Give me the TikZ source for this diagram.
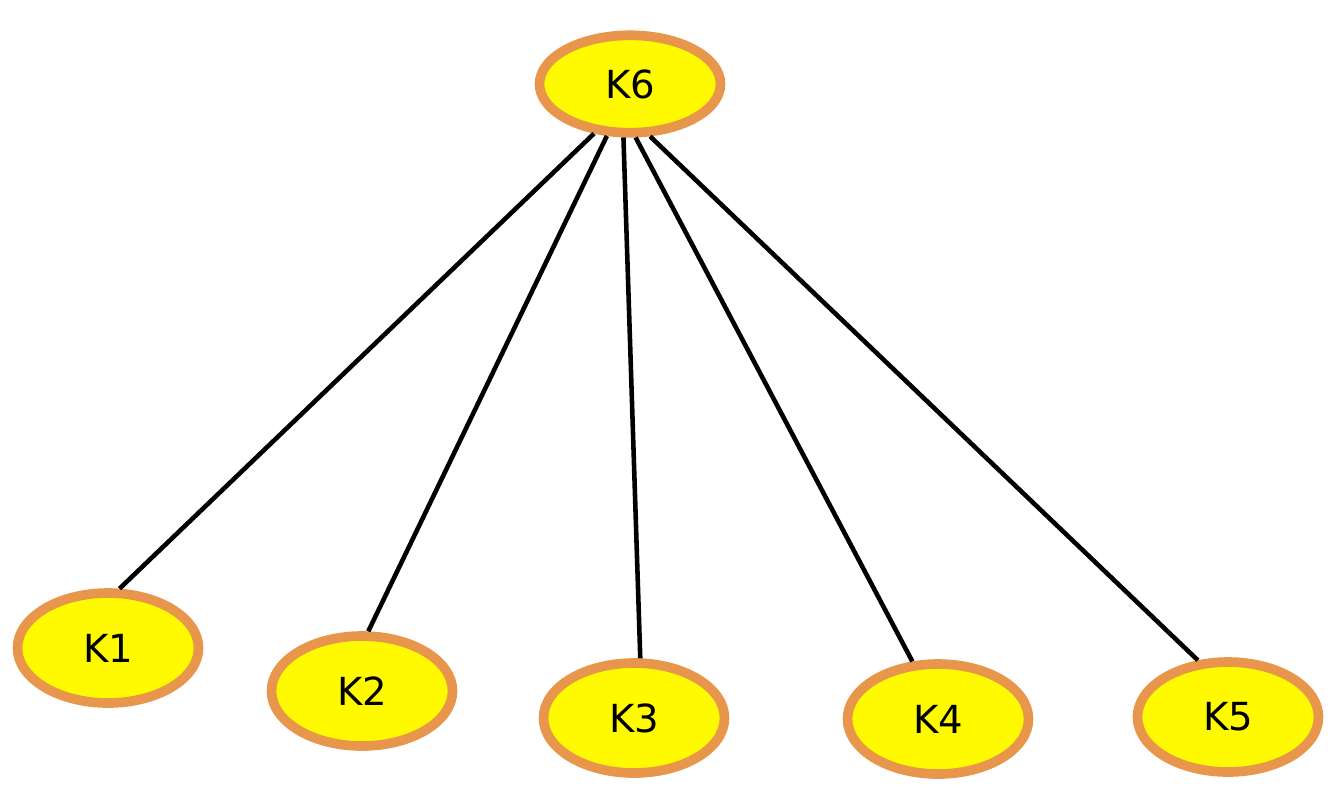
\documentclass[tikz,border=0pt]{standalone}
\usepackage{fontspec}
\setmainfont{DejaVu Sans}
\usetikzlibrary{shapes.geometric}

\definecolor{myyellow}{RGB}{255,250,0}
\definecolor{myorange}{RGB}{232,150,75}

\begin{document}
\begin{tikzpicture}[x = .02cm, y = -.02cm]
		\tikzstyle{every node} = [font = \fontsize{22}{26}\selectfont]
		\tikzstyle{knode} = [ellipse, draw = myorange, fill = myyellow, line width = 5.5pt, minimum width = 3.62cm, minimum height = 2.2cm, inner sep = 0pt]
		\tikzstyle{kedge} = [black, line width = 2.6pt]
		
		\useasboundingbox (0,0) rectangle (1332,802);
		
		\node [knode, minimum height = 1.95cm] (k6) at (630,84) {K6};
		\node [knode] (k1) at (108,648) {K1};
		\node [knode] (k2) at (362,691) {K2};
		\node [knode] (k3) at (634,718) {K3};
		\node [knode] (k4) at (938,719) {K4};
		\node [knode] (k5) at (1228,717) {K5};
		
		\draw [kedge] (k6.234) -- (k1.79); %k6 to k1
		\draw [kedge] (k6.246) -- (k2.84); %k6 to k2
		\draw [kedge] (k6.263) -- (k3.84); %k6 to k3
		\draw [kedge] (k6.276) -- (k4.114); %k6 to k4
		\draw [kedge] (k6.291) -- (k5.118); %k6 to k5
	\end{tikzpicture}
\end{document}
